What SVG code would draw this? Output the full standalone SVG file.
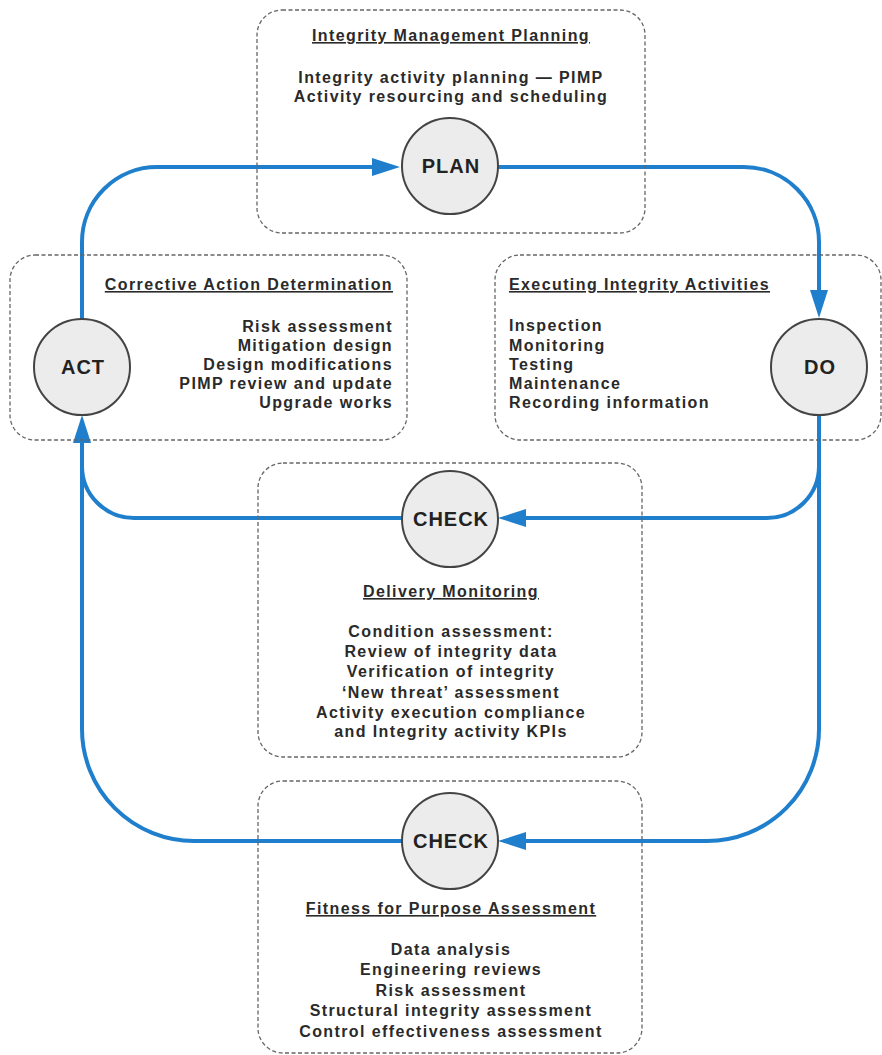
<svg xmlns="http://www.w3.org/2000/svg" width="882" height="1055" viewBox="0 0 882 1055">
<style>
.box{fill:none;stroke:#666;stroke-width:1.3;stroke-dasharray:4 2.5}
.node{fill:#ececec;stroke:#444;stroke-width:2}
.lbl{font-family:"Liberation Sans",Arial,sans-serif;font-weight:bold;font-size:20px;letter-spacing:1px;fill:#222;text-anchor:middle}
.t{font-family:"Liberation Sans",Arial,sans-serif;font-weight:bold;font-size:16px;letter-spacing:1.4px;fill:#2a2a2a}
.ttl{text-decoration:underline}
.c{text-anchor:middle}
.r{text-anchor:end}
.l{text-anchor:start}
.conn{fill:none;stroke:#1f7fcc;stroke-width:4;marker-end:url(#ah)}
.conn2{fill:none;stroke:#1f7fcc;stroke-width:4}
</style>
<defs>
<marker id="ah" markerUnits="userSpaceOnUse" markerWidth="28" markerHeight="18" refX="0" refY="9" orient="auto" overflow="visible">
<path d="M0,0 L28,9 L0,18 z" fill="#1f7fcc"/>
</marker>
</defs>
<rect width="882" height="1055" fill="#fff"/>

<g id="connectors">
<path class="conn" d="M82,319 L82,242 A75,75 0 0 1 157,167 L372,167"/>
<path class="conn" d="M498,167 L744,167 A75,75 0 0 1 819,242 L819,290"/>
<path class="conn" d="M819,415 L819,466 A52,52 0 0 1 767,518 L526,518"/>
<path class="conn" d="M819,466 L819,729 A112,112 0 0 1 707,841 L526,841"/>
<path class="conn" d="M402,518 L134,518 A52,52 0 0 1 82,466 L82,443"/>
<path class="conn2" d="M402,841 L194,841 A112,112 0 0 1 82,729 L82,466"/>
</g>

<g id="plan">
<rect class="box" x="257" y="10" width="388" height="223" rx="25"/>
<text class="t c ttl" x="451" y="41">Integrity Management Planning</text>
<text class="t c" x="451" y="83">Integrity activity planning — PIMP</text>
<text class="t c" x="451" y="102">Activity resourcing and scheduling</text>
<circle class="node" cx="450" cy="166" r="48"/>
<text class="lbl" x="451" y="173">PLAN</text>
</g>

<g id="act">
<rect class="box" x="10" y="255" width="397" height="185" rx="25"/>
<text class="t r ttl" x="393" y="290">Corrective Action Determination</text>
<text class="t r" x="393" y="332">Risk assessment</text>
<text class="t r" x="393" y="351">Mitigation design</text>
<text class="t r" x="393" y="370">Design modifications</text>
<text class="t r" x="393" y="389">PIMP review and update</text>
<text class="t r" x="393" y="408">Upgrade works</text>
<circle class="node" cx="82" cy="367" r="48"/>
<text class="lbl" x="83" y="374">ACT</text>
</g>

<g id="do">
<rect class="box" x="495" y="255" width="386" height="185" rx="25"/>
<text class="t l ttl" x="509" y="290">Executing Integrity Activities</text>
<text class="t l" x="509" y="331">Inspection</text>
<text class="t l" x="509" y="351">Monitoring</text>
<text class="t l" x="509" y="370">Testing</text>
<text class="t l" x="509" y="389">Maintenance</text>
<text class="t l" x="509" y="408">Recording information</text>
<circle class="node" cx="819" cy="367" r="48"/>
<text class="lbl" x="820" y="374">DO</text>
</g>

<g id="check-delivery">
<rect class="box" x="258" y="463" width="384" height="294" rx="25"/>
<circle class="node" cx="450" cy="519" r="48"/>
<text class="lbl" x="451" y="526">CHECK</text>
<text class="t c ttl" x="451" y="597">Delivery Monitoring</text>
<text class="t c" x="451" y="637">Condition assessment:</text>
<text class="t c" x="451" y="657">Review of integrity data</text>
<text class="t c" x="451" y="677">Verification of integrity</text>
<text class="t c" x="451" y="698">‘New threat’ assessment</text>
<text class="t c" x="451" y="718">Activity execution compliance</text>
<text class="t c" x="451" y="737">and Integrity activity KPIs</text>
</g>

<g id="check-ffp">
<rect class="box" x="258" y="781" width="384" height="272" rx="25"/>
<circle class="node" cx="450" cy="841" r="48"/>
<text class="lbl" x="451" y="848">CHECK</text>
<text class="t c ttl" x="451" y="914">Fitness for Purpose Assessment</text>
<text class="t c" x="451" y="955">Data analysis</text>
<text class="t c" x="451" y="975">Engineering reviews</text>
<text class="t c" x="451" y="996">Risk assessment</text>
<text class="t c" x="451" y="1016">Structural integrity assessment</text>
<text class="t c" x="451" y="1037">Control effectiveness assessment</text>
</g>
</svg>
